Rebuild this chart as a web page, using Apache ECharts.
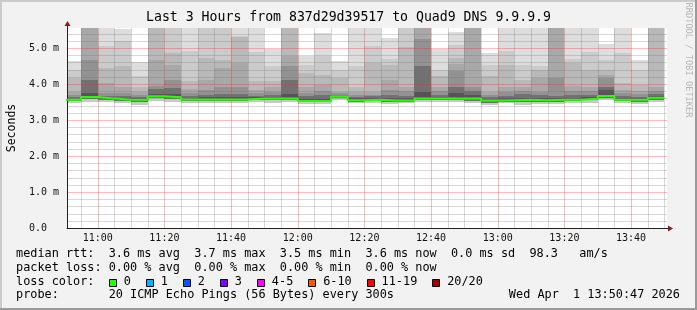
<!DOCTYPE html>
<html><head><meta charset="utf-8">
<script src="https://cdn.jsdelivr.net/npm/echarts@6/dist/echarts.min.js"></script>
<style>html,body{margin:0;padding:0;background:#f2f2f2;}#c{width:697px;height:310px;}</style>
</head><body><div id="c"></div>
<script>
// ---------- data ----------
const titleText = 'Last 3 Hours from 837d29d39517 to Quad9 DNS 9.9.9.9';
const rangeStart = '10:50:47';
const rangeEnd = '13:50:47';
const stepMinutes = 5;
const barEnds = ['10:55','11:00','11:05','11:10','11:15','11:20','11:25','11:30','11:35','11:40','11:45','11:50',
  '11:55','12:00','12:05','12:10','12:15','12:20','12:25','12:30','12:35','12:40','12:45','12:50',
  '12:55','13:00','13:05','13:10','13:15','13:20','13:25','13:30','13:35','13:40','13:45','13:50'];
const xTickLabels = ['11:00','11:20','11:40','12:00','12:20','12:40','13:00','13:20','13:40'];
const yTickLabels = ['0.0','1.0 m','2.0 m','3.0 m','4.0 m','5.0 m'];
const yMax = 5.556;
const xMinorMinutes = 5;
const yMinorStep = 0.2;
// median rtt (ms) per 5-minute step
const median = [3.56,3.64,3.60,3.56,3.56,3.66,3.63,3.57,3.57,3.57,3.57,3.60,3.60,3.60,3.53,3.53,3.65,3.55,3.56,3.54,3.54,3.60,3.60,3.60,3.60,3.54,3.55,3.56,3.55,3.56,3.56,3.59,3.67,3.56,3.56,3.62];
// sorted ping quantiles (ms): p1 lowest ... p20 highest (values above the top are clipped)
const p1  = [3.47,3.50,3.50,3.47,3.43,3.52,3.50,3.48,3.47,3.46,3.46,3.50,3.48,3.50,3.45,3.45,3.56,3.47,3.48,3.45,3.46,3.50,3.50,3.50,3.46,3.42,3.48,3.42,3.45,3.45,3.46,3.48,3.55,3.46,3.45,3.50];
const p8  = [3.52,3.58,3.56,3.52,3.50,3.60,3.58,3.52,3.52,3.52,3.52,3.56,3.55,3.56,3.49,3.49,3.62,3.51,3.52,3.50,3.50,3.55,3.55,3.55,3.54,3.48,3.51,3.50,3.50,3.50,3.52,3.55,3.60,3.52,3.50,3.56];
const p12 = [3.59,3.76,3.64,3.62,3.60,3.72,3.72,3.62,3.63,3.64,3.64,3.64,3.65,3.72,3.58,3.58,3.68,3.60,3.62,3.60,3.60,3.79,3.64,3.75,3.70,3.58,3.62,3.62,3.60,3.60,3.62,3.65,3.84,3.61,3.60,3.66];
const p14 = [3.64,4.12,3.68,3.68,3.64,3.85,3.90,3.68,3.70,3.72,3.72,3.68,3.70,4.10,3.66,3.70,3.70,3.64,3.66,3.70,3.68,4.51,3.70,3.92,3.80,3.64,3.68,3.72,3.70,3.66,3.70,3.70,3.93,3.66,3.65,3.72];
const p16 = [3.70,4.68,3.75,3.76,3.70,3.95,4.12,3.76,3.82,3.93,3.92,3.74,3.78,4.50,3.76,3.80,3.74,3.70,3.70,3.82,3.80,5.25,3.80,4.35,3.92,3.70,3.78,3.80,3.79,4.17,3.80,3.80,4.17,3.74,3.72,3.80];
const p17 = [3.79,5.70,4.03,3.92,3.79,4.68,4.54,3.86,4.12,4.44,4.58,3.84,3.92,4.77,3.92,3.98,3.79,3.79,3.79,4.10,3.92,5.70,3.92,4.55,5.70,3.79,3.92,3.93,4.17,5.70,3.95,3.93,4.26,3.84,3.80,3.93];
const p18 = [4.17,5.90,4.44,4.49,3.92,5.60,4.86,4.07,4.72,4.68,5.30,4.07,4.07,5.60,4.31,4.26,4.17,3.92,4.58,4.54,5.04,5.90,4.21,4.72,5.90,4.23,4.54,4.12,4.40,5.90,4.58,4.40,4.40,4.03,3.98,5.90];
const p19 = [4.40,6.20,5.06,5.20,4.21,5.80,5.70,4.93,5.70,5.65,5.34,4.90,4.51,5.90,4.54,4.77,4.40,4.49,5.06,4.69,5.70,6.20,4.40,5.09,6.20,4.54,4.91,4.54,4.49,6.20,4.70,4.88,4.68,4.86,4.40,6.20];
const p20 = [4.63,6.50,5.90,5.54,4.60,6.20,6.00,5.90,6.00,5.90,5.80,5.90,4.97,6.30,4.77,5.43,4.65,5.90,5.90,5.28,6.00,6.50,4.97,5.44,6.50,4.86,5.90,5.90,5.90,6.50,5.90,5.90,5.12,5.90,4.66,6.50];
const lossLabels = ['0','1','2','3','4-5','6-10','11-19','20/20'];
const lossColors = ['#26ff00','#00b8ff','#0059ff','#7e00ff','#ff00ff','#ff5500','#ff0000','#a10000'];
const legendRows = [
  'median rtt:  3.6 ms avg  3.7 ms max  3.5 ms min  3.6 ms now  0.0 ms sd  98.3   am/s',
  'packet loss: 0.00 % avg  0.00 % max  0.00 % min  0.00 % now',
  'loss color:',
  'probe:       20 ICMP Echo Pings (56 Bytes) every 300s'
];
const dateText = 'Wed Apr  1 13:50:47 2026';
const yAxisName = 'Seconds';
const vendorText = 'RRDTOOL / TOBI OETIKER';

// ---------- build ----------
const MONO = '"DejaVu Sans Mono", "Liberation Mono", monospace';
const toMin = s => { const a = s.split(':').map(Number); return a[0]*60 + a[1] + (a[2]||0)/60; };
const fmt = v => { const h = Math.floor(v/60), m = Math.round(v - h*60); return String(h).padStart(2,'0') + ':' + String(m).padStart(2,'0'); };
const xMin = toMin(rangeStart), xMax = toMin(rangeEnd);

const bandLevels = [p1, p8, median, p12, p14, p16, p17, p18, p19, p20];
const bandColors = ['#c8c8c8','#707070','#555555','#717171','#929292','#a8a8a8','#b9b9b9','#cbcbcb','#dddddd'];
const smokeData = [];
const medianLine = [];
barEnds.forEach((t, i) => {
  const end = toMin(t), start = end - stepMinutes;
  for (let b = 0; b < bandLevels.length - 1; b++) {
    smokeData.push([start, end, bandLevels[b][i], bandLevels[b+1][i], b]);
  }
  medianLine.push([start, median[i]], [end, median[i]]);
});

const chart = echarts.init(document.getElementById('c'), null, {renderer: 'canvas'});
const GRID = {left: 67, top: 28, width: 600, height: 200};
const majorColor = 'rgba(240,40,40,0.30)';
const minorColor = 'rgba(110,110,110,0.27)';

const option = {
  backgroundColor: '#f2f2f2',
  animation: false,
  title: {
    text: titleText, left: 'center', top: 11, padding: 0,
    textStyle: {fontFamily: MONO, fontSize: 13.2, fontWeight: 'normal', color: '#000'}
  },
  grid: {left: GRID.left, top: GRID.top, width: GRID.width, height: GRID.height,
         containLabel: false, outerBoundsMode: 'none',
         show: true, backgroundColor: '#ffffff', borderWidth: 0},
  xAxis: {
    type: 'value', min: xMin, max: xMax, splitNumber: 9, minInterval: 20, maxInterval: 20, z: 3,
    axisLine: {show: true, onZero: false, lineStyle: {color: '#222', width: 1}},
    axisTick: {show: false},
    axisLabel: {show: true, showMinLabel: false, showMaxLabel: false, margin: 5, hideOverlap: false,
      fontFamily: MONO, fontSize: 10, color: '#111',
      formatter: v => { const s = fmt(v); return xTickLabels.includes(s) ? s : ''; }},
    splitLine: {show: false},
    minorSplitLine: {show: false}
  },
  yAxis: {
    type: 'value', min: 0, max: yMax, splitNumber: 5, minInterval: 1, maxInterval: 1, z: 3,
    name: yAxisName, nameLocation: 'middle', nameRotate: 90, nameGap: 49,
    nameTextStyle: {fontFamily: MONO, fontSize: 11.5, color: '#000'},
    axisLine: {show: true, lineStyle: {color: '#222', width: 1}},
    axisTick: {show: false},
    axisLabel: {show: true, showMaxLabel: false, margin: 38, align: 'left', hideOverlap: false,
      fontFamily: MONO, fontSize: 10, color: '#111',
      formatter: v => { const k = Math.round(v); return Math.abs(v - k) < 1e-6 && yTickLabels[k] ? yTickLabels[k] : ''; }},
    splitLine: {show: false},
    minorSplitLine: {show: false}
  },
  series: [
    {
      type: 'custom', z: 2, data: smokeData,
      encode: {x: [0, 1], y: [2, 3]},
      renderItem: (params, api) => {
        const a = api.coord([api.value(0), api.value(3)]);
        const b = api.coord([api.value(1), api.value(2)]);
        const x0 = Math.round(a[0]), x1 = Math.round(b[0]);
        const y0 = Math.round(a[1]), y1 = Math.round(b[1]);
        const cs = params.coordSys;
        const r = echarts.graphic.clipRectByRect({x: x0, y: y0, width: x1 - x0, height: y1 - y0},
          {x: cs.x, y: cs.y, width: cs.width, height: cs.height});
        if (!r) return null;
        return {type: 'rect', shape: r, style: {fill: bandColors[api.value(4)]}};
      }
    },
    {
      type: 'line', z: 4, data: medianLine, symbol: 'none', clip: true,
      lineStyle: {color: lossColors[0], width: 2}
    }
  ]
};
chart.setOption(option);

// decorations: grid lines (from axis scale), frame, arrows, legend text
const g = [];
const W = 697, H = 310;
const px = (x, y) => chart.convertToPixel({gridIndex: 0}, [x, y]);
const origin = px(xMin, 0);
const topLeft = px(xMin, yMax);
const botRight = px(xMax, 0);
const gx0 = origin[0], gx1 = botRight[0], gy0 = origin[1], gy1 = topLeft[1];
const majorX = xTickLabels.map(toMin);
for (let m = Math.ceil(xMin / xMinorMinutes) * xMinorMinutes; m < xMax; m += xMinorMinutes) {
  const isMajor = majorX.some(v => Math.abs(v - m) < 1e-6);
  const X = Math.round(px(m, 0)[0]) + 0.5;
  g.push({type: 'line', z: 3, silent: true, shape: {x1: X, y1: gy1, x2: X, y2: gy0},
    style: {stroke: isMajor ? majorColor : minorColor, lineWidth: 1}});
}
const nMinorY = Math.floor(yMax / yMinorStep + 1e-6);
for (let k = 1; k <= nMinorY; k++) {
  const v = +(k * yMinorStep).toFixed(6);
  const isMajor = Math.abs(v - Math.round(v)) < 1e-6 && yTickLabels[Math.round(v)] !== undefined;
  const Y = Math.round(px(xMin, v)[1]) + 0.5;
  g.push({type: 'line', z: 3, silent: true, shape: {x1: gx0, y1: Y, x2: gx1, y2: Y},
    style: {stroke: isMajor ? majorColor : minorColor, lineWidth: 1}});
}

g.push({type: 'rect', shape: {x: 0, y: 0, width: W, height: 2}, style: {fill: '#cbcbcb'}, silent: true});
g.push({type: 'rect', shape: {x: 0, y: 0, width: 2, height: H}, style: {fill: '#cbcbcb'}, silent: true});
g.push({type: 'rect', shape: {x: 0, y: H - 2, width: W, height: 2}, style: {fill: '#9a9a9a'}, silent: true});
g.push({type: 'rect', shape: {x: W - 2, y: 0, width: 2, height: H}, style: {fill: '#9a9a9a'}, silent: true});

const ax = Math.round(gx0) + 0.5, ay = Math.round(gy0) + 0.5;
g.push({type: 'line', shape: {x1: ax, y1: gy1, x2: ax, y2: gy1 - 4}, style: {stroke: '#222', lineWidth: 1}, z: 5});
g.push({type: 'polygon', shape: {points: [[ax - 3, gy1 - 2], [ax + 3, gy1 - 2], [ax, gy1 - 7]]}, style: {fill: '#8b1a1a'}, z: 5});
g.push({type: 'line', shape: {x1: gx1, y1: ay, x2: gx1 + 3, y2: ay}, style: {stroke: '#222', lineWidth: 1}, z: 5});
g.push({type: 'polygon', shape: {points: [[gx1 + 1, ay - 3], [gx1 + 1, ay + 3], [gx1 + 6, ay]]}, style: {fill: '#8b1a1a'}, z: 5});

const LFONT = 11.85, cw = LFONT * 0.602;
const rowY = [254.2, 267.9, 281.6, 295.3];
legendRows.forEach((t, i) => {
  g.push({type: 'text', x: 16, y: rowY[i], style: {text: t, font: LFONT + 'px ' + MONO, fill: '#000', verticalAlign: 'middle', align: 'left'}, z: 5});
});
let bx = 16 + 13 * cw;
lossLabels.forEach((lab, i) => {
  g.push({type: 'rect', shape: {x: Math.round(bx) + 0.5, y: 279.5, width: 7, height: 7}, style: {fill: lossColors[i], stroke: '#000', lineWidth: 1}, z: 5});
  const tx = bx + 15;
  g.push({type: 'text', x: tx, y: rowY[2], style: {text: lab, font: LFONT + 'px ' + MONO, fill: '#000', verticalAlign: 'middle', align: 'left'}, z: 5});
  bx = tx + lab.length * cw + 14.9;
});
g.push({type: 'text', x: 680, y: rowY[3], style: {text: dateText, font: LFONT + 'px ' + MONO, fill: '#000', verticalAlign: 'middle', align: 'right'}, z: 5});
g.push({type: 'text', x: 688, y: 60, rotation: -Math.PI / 2,
  style: {text: vendorText, font: '8.7px ' + MONO, fill: '#b8b8b8', verticalAlign: 'middle', align: 'center'}, z: 5});

chart.setOption({graphic: g});
</script>
</body></html>
